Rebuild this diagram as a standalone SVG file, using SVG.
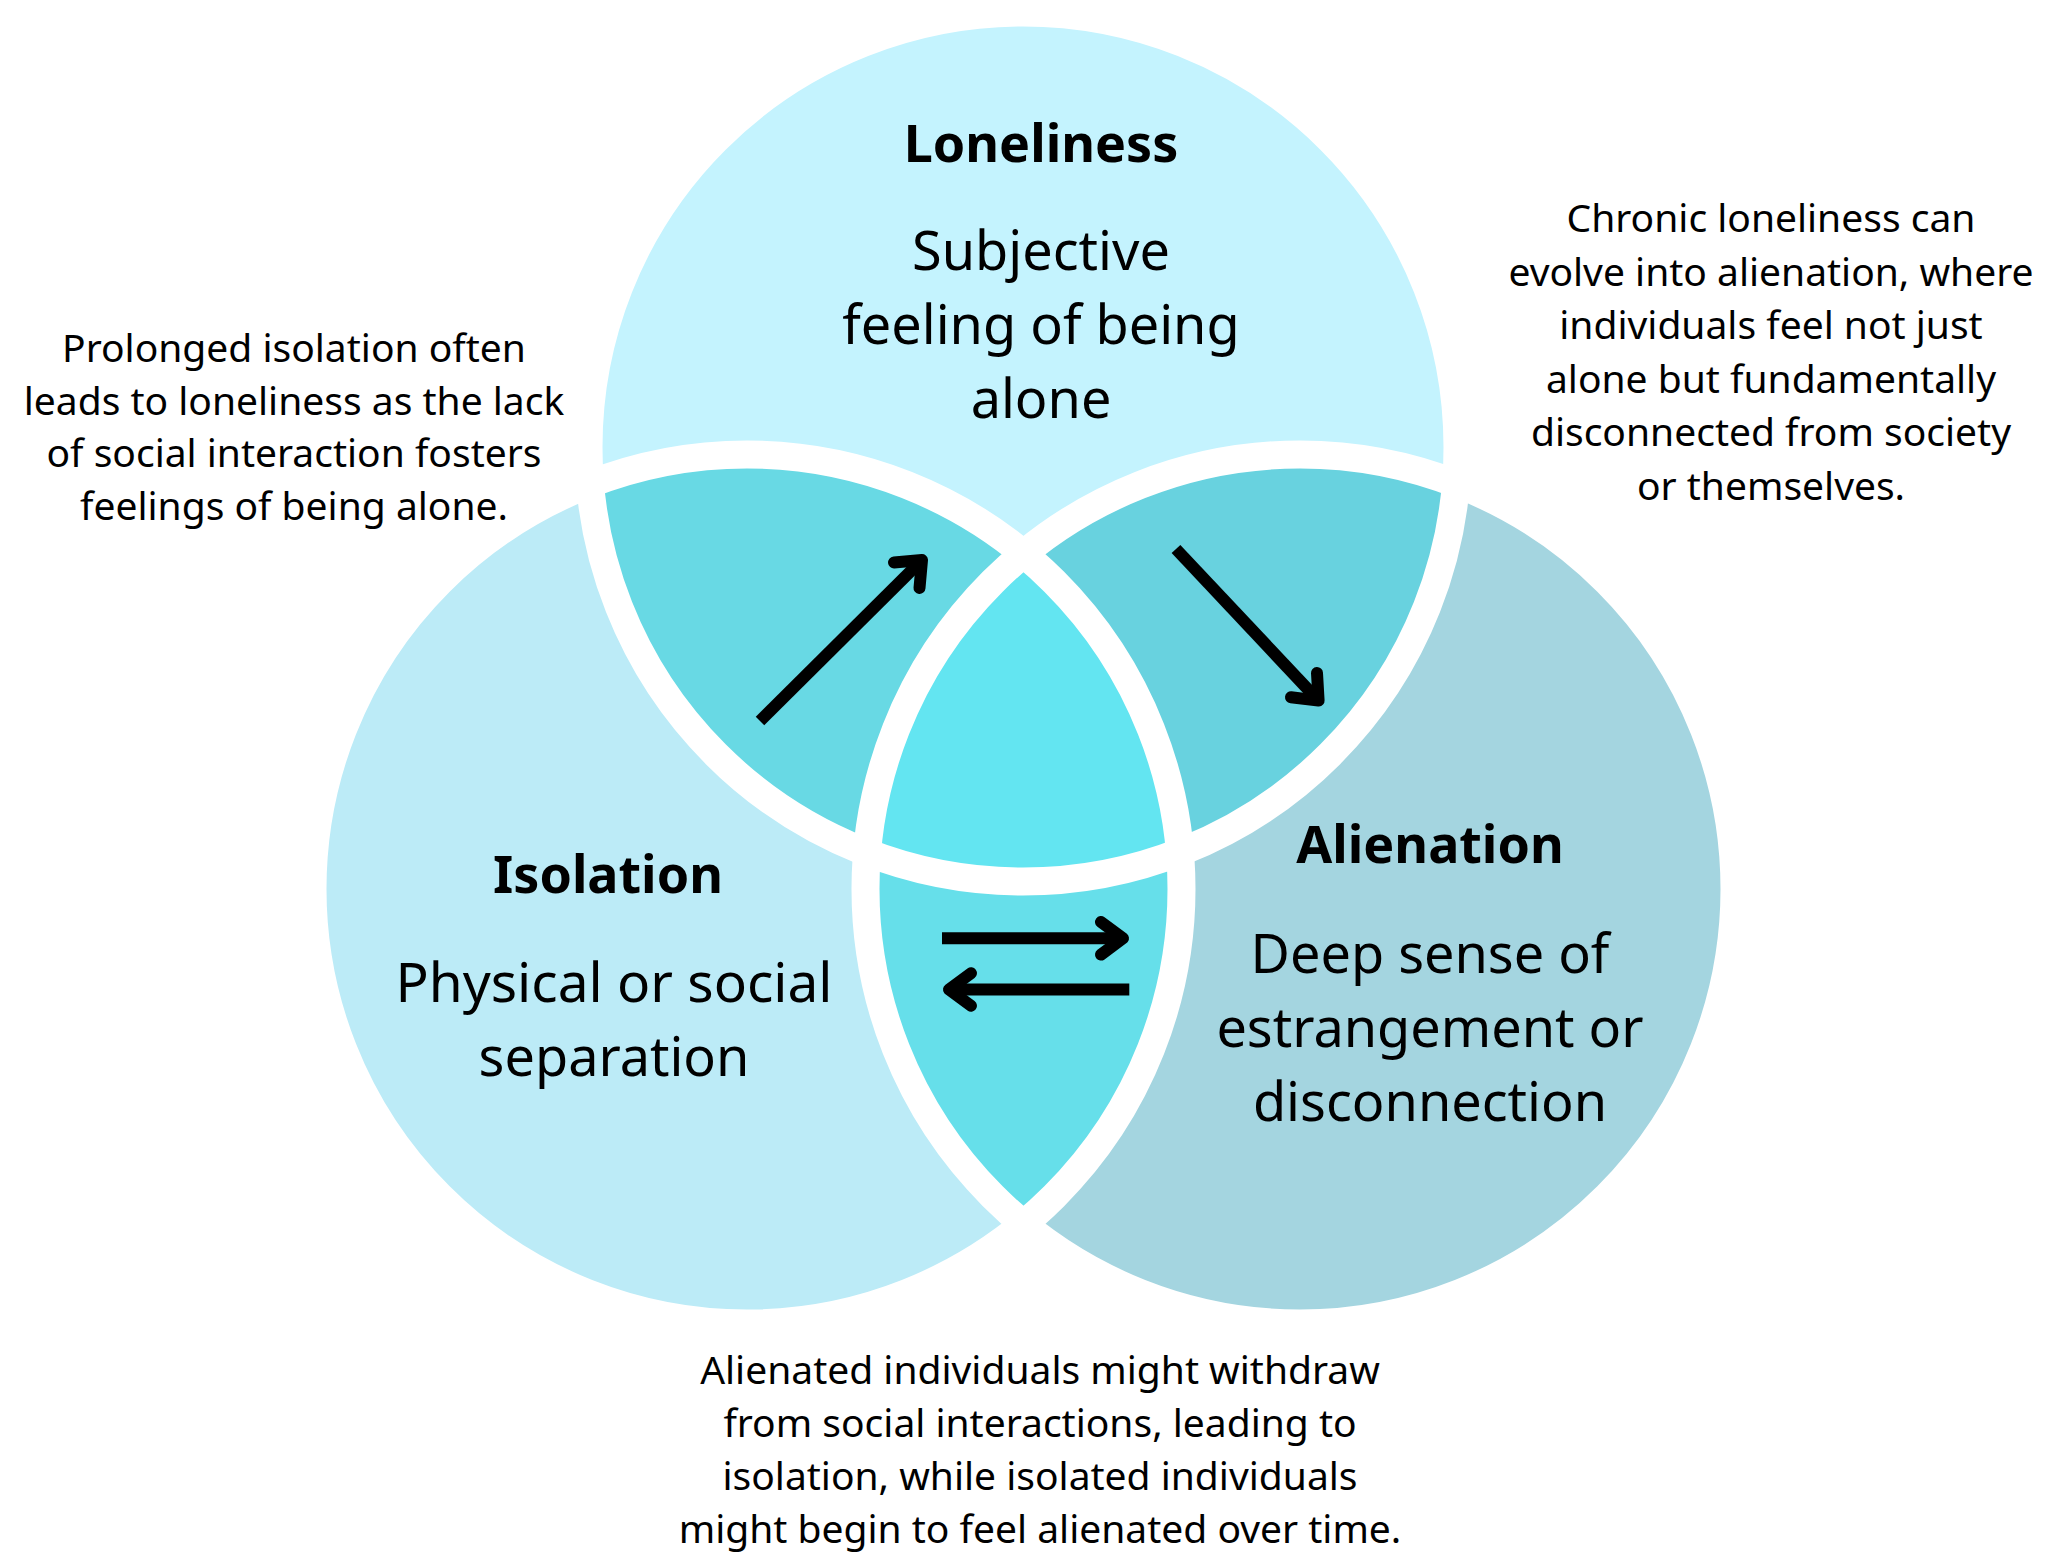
<svg xmlns="http://www.w3.org/2000/svg" width="2048" height="1563" viewBox="0 0 2048 1563">
<style>
.t{font-family:"Noto Sans","Liberation Sans",sans-serif;fill:#000;text-anchor:middle}
.title{font-size:52px;font-weight:700}
.big{font-size:54px}
.small{font-size:39px}
.ring{fill:none;stroke:#fff;stroke-width:28}
.arrow{fill:none;stroke:#000;stroke-width:12}
.head{fill:none;stroke:#000;stroke-width:12;stroke-linecap:round;stroke-linejoin:round}
</style>
<defs>
<clipPath id="clipTop"><circle cx="1023" cy="447" r="434.5"/></clipPath>
<clipPath id="clipLeft"><circle cx="747" cy="889" r="434.5"/></clipPath>
<clipPath id="clipRight"><circle cx="1300" cy="889" r="434.5"/></clipPath>
</defs>
<rect width="2048" height="1563" fill="#fff"/>

<g id="node-isolation">
<circle cx="747" cy="889" r="434.5" fill="#BCEBF7"/>
</g>
<g id="node-alienation">
<circle cx="1300" cy="889" r="434.5" fill="#A4D5E0"/>
</g>
<g id="node-loneliness">
<circle cx="1023" cy="447" r="434.5" fill="#C4F3FE"/>
</g>

<g id="overlaps">
<circle cx="747" cy="889" r="434.5" fill="#68D9E4" clip-path="url(#clipTop)"/>
<circle cx="1300" cy="889" r="434.5" fill="#68D2DF" clip-path="url(#clipTop)"/>
<circle cx="1300" cy="889" r="434.5" fill="#66DFEA" clip-path="url(#clipLeft)"/>
<g clip-path="url(#clipTop)"><circle cx="1300" cy="889" r="434.5" fill="#63E5F1" clip-path="url(#clipLeft)"/></g>
</g>

<g id="rings">
<circle class="ring" cx="1023" cy="447" r="434.5"/>
<circle class="ring" cx="747" cy="889" r="434.5"/>
<circle class="ring" cx="1300" cy="889" r="434.5"/>
</g>

<g id="label-loneliness">
<text class="t title" x="1041" y="162">Loneliness</text>
<text class="t big" x="1041" y="270">Subjective</text>
<text class="t big" x="1041" y="344">feeling of being</text>
<text class="t big" x="1041" y="418">alone</text>
</g>
<g id="label-isolation">
<text class="t title" x="608" y="893">Isolation</text>
<text class="t big" x="614" y="1002" style="font-size:55px">Physical or social</text>
<text class="t big" x="614" y="1076">separation</text>
</g>
<g id="label-alienation">
<text class="t title" x="1430" y="863">Alienation</text>
<text class="t big" x="1430" y="973">Deep sense of</text>
<text class="t big" x="1430" y="1047">estrangement or</text>
<text class="t big" x="1430" y="1121">disconnection</text>
</g>

<g id="connectors">
<g id="arrow-isolation-loneliness">
<line class="arrow" x1="760" y1="721" x2="922" y2="560"/>
<polyline class="head" points="894,562.5 922,560 919.5,588"/>
</g>
<g id="arrow-loneliness-alienation">
<line class="arrow" x1="1176" y1="549" x2="1318.6" y2="700.6"/>
<polyline class="head" points="1317,673 1318.6,700.6 1291,697.3"/>
</g>
<g id="arrow-isolation-alienation">
<line class="arrow" x1="942" y1="938.3" x2="1123" y2="938.3"/>
<polyline class="head" points="1101,922 1123,938.3 1101,954.6"/>
</g>
<g id="arrow-alienation-isolation">
<line class="arrow" x1="1129.3" y1="989.5" x2="949" y2="989.5"/>
<polyline class="head" points="971,973.2 949,989.5 971,1005.8"/>
</g>
</g>

<g id="note-isolation-loneliness">
<text class="t small" x="294" y="362">Prolonged isolation often</text>
<text class="t small" x="294" y="415">leads to loneliness as the lack</text>
<text class="t small" x="294" y="467">of social interaction fosters</text>
<text class="t small" x="294" y="520">feelings of being alone.</text>
</g>
<g id="note-loneliness-alienation">
<text class="t small" x="1771" y="232">Chronic loneliness can</text>
<text class="t small" x="1771" y="285.5">evolve into alienation, where</text>
<text class="t small" x="1771" y="339">individuals feel not just</text>
<text class="t small" x="1771" y="392.5">alone but fundamentally</text>
<text class="t small" x="1771" y="446">disconnected from society</text>
<text class="t small" x="1771" y="499.5">or themselves.</text>
</g>
<g id="note-alienation-isolation">
<text class="t small" x="1040" y="1384">Alienated individuals might withdraw</text>
<text class="t small" x="1040" y="1437">from social interactions, leading to</text>
<text class="t small" x="1040" y="1490">isolation, while isolated individuals</text>
<text class="t small" x="1040" y="1543">might begin to feel alienated over time.</text>
</g>
</svg>
